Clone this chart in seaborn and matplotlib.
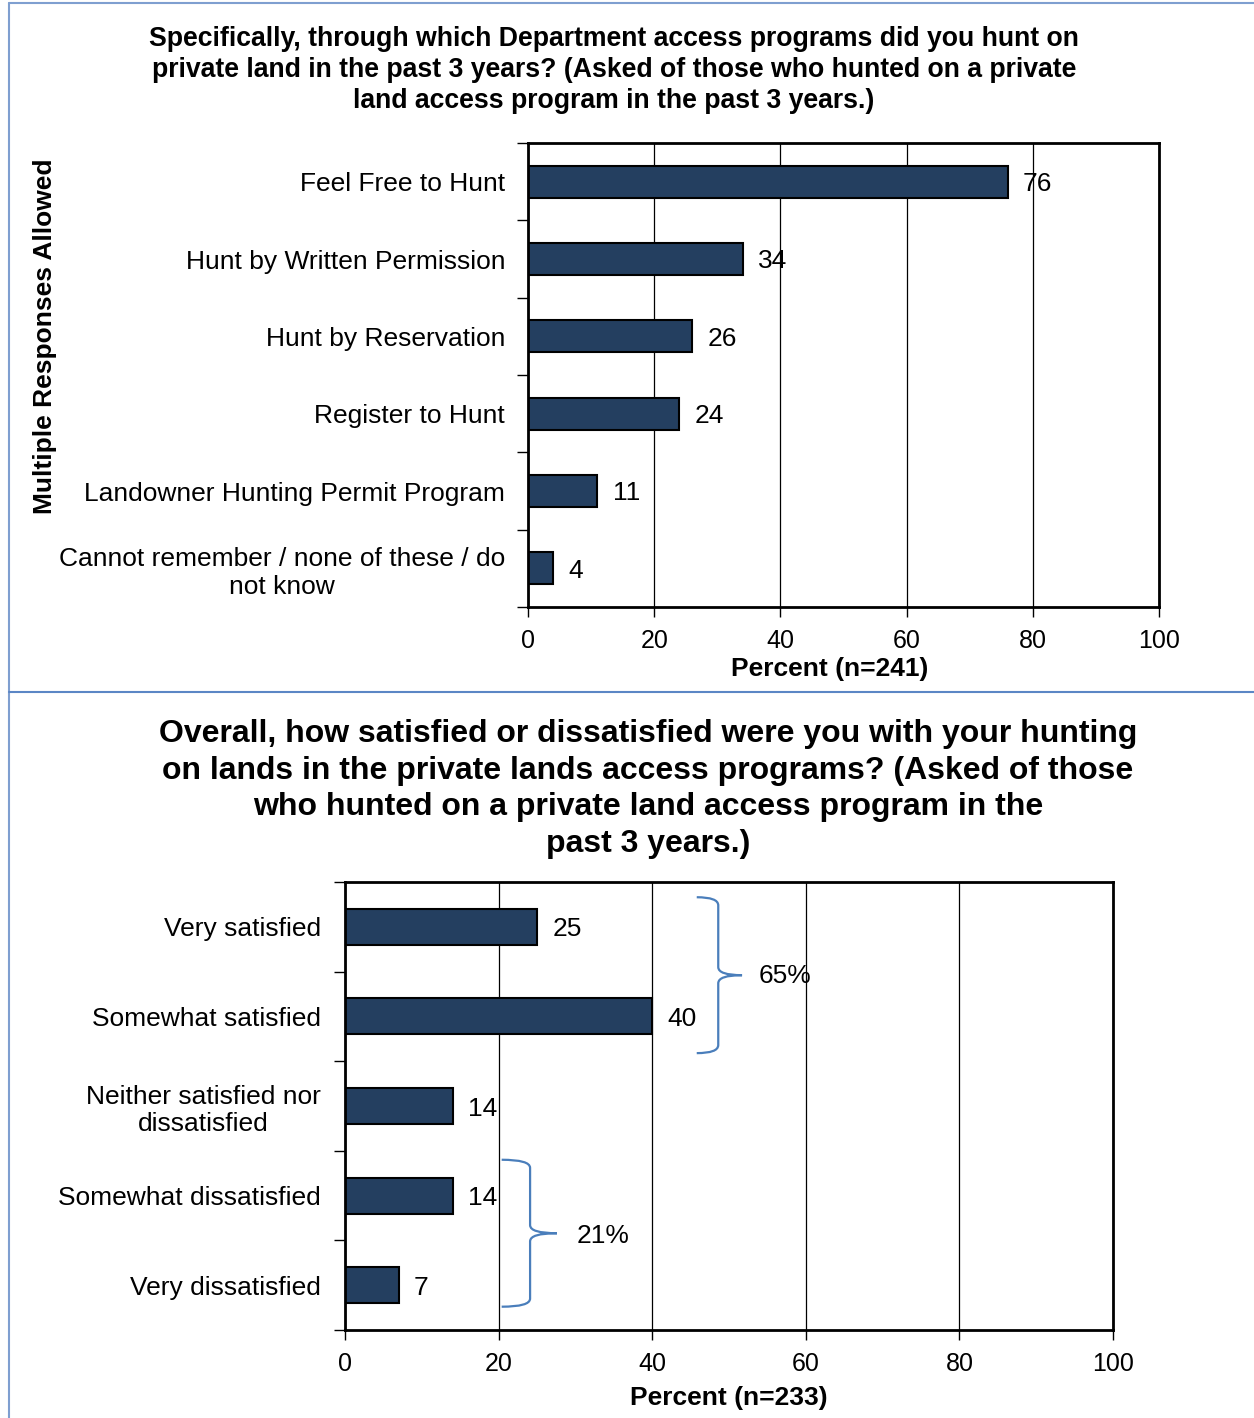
import matplotlib
matplotlib.use("Agg")
import matplotlib.pyplot as plt
from matplotlib.path import Path
from matplotlib.patches import PathPatch
from matplotlib.lines import Line2D
import seaborn as sns
import pandas as pd
import numpy as np

# Access programs used (multiple responses allowed)
programs = [
    "Feel Free to Hunt",
    "Hunt by Written Permission",
    "Hunt by Reservation",
    "Register to Hunt",
    "Landowner Hunting Permit Program",
    "Cannot remember / none of these / do\nnot know",
]
program_pct = [76, 34, 26, 24, 11, 4]

# Satisfaction with private lands access programs
satisfaction = [
    "Very satisfied",
    "Somewhat satisfied",
    "Neither satisfied nor\ndissatisfied",
    "Somewhat dissatisfied",
    "Very dissatisfied",
]
satisfaction_pct = [25, 40, 14, 14, 7]

# Combined group totals shown with braces
satisfied_total = "65%"
dissatisfied_total = "21%"

title_top = ("Specifically, through which Department access programs did you hunt on\n"
             "private land in the past 3 years? (Asked of those who hunted on a private\n"
             "land access program in the past 3 years.)")
title_bottom = ("Overall, how satisfied or dissatisfied were you with your hunting\n"
                "on lands in the private lands access programs? (Asked of those\n"
                "who hunted on a private land access program in the\n"
                "past 3 years.)")

sns.set_style("white", {"text.color": "black", "axes.labelcolor": "black",
                        "xtick.color": "black", "ytick.color": "black"})
plt.rcParams["font.family"] = ["Liberation Sans", "DejaVu Sans"]

BAR = "#243F60"
BRACE = "#4a7ebb"
FRAME = "#7f9fd0"
FS = 19

W, H = 1254, 1418
fig = plt.figure(figsize=(W / 100, H / 100), dpi=100)


def fx(px):
    return px / W


def fy(py):
    return 1 - py / H


def style_axis(ax, n, label_pad):
    ax.set_xlim(0, 100)
    ax.set_ylim(n - 0.5, -0.5)
    ax.set_xticks(range(0, 101, 20))
    ax.xaxis.grid(True, color="black", linewidth=0.9)
    ax.yaxis.grid(False)
    ax.set_axisbelow(True)
    ax.set_yticks(np.arange(-0.5, n, 1.0), minor=True)
    ax.tick_params(axis="y", which="major", length=0, pad=label_pad, labelsize=FS,
                   labelcolor="black")
    ax.tick_params(axis="y", which="minor", length=8, width=1, color="black", left=True)
    ax.tick_params(axis="x", which="major", length=7, width=1, color="black",
                   bottom=True, pad=9, labelsize=18, labelcolor="black")
    for lbl in ax.get_yticklabels():
        lbl.set_multialignment("center")
    for sp in ax.spines.values():
        sp.set_visible(True)
        sp.set_color("black")
        sp.set_linewidth(2)
    ax.set_ylabel("")


def value_labels(ax):
    for t in ax.bar_label(ax.containers[0], fmt="%g", padding=11, fontsize=FS,
                          color="black"):
        t.set_va("center_baseline")


def brace(ax, x_tip, x_spine, x_point, y_top, y_bot, r=0.09):
    ym = (y_top + y_bot) / 2
    verts = [
        (x_tip, y_top),
        (x_spine, y_top), (x_spine, y_top + r),
        (x_spine, ym - r),
        (x_spine, ym), (x_point, ym),
        (x_spine, ym), (x_spine, ym + r),
        (x_spine, y_bot - r),
        (x_spine, y_bot), (x_tip, y_bot),
    ]
    codes = [Path.MOVETO,
             Path.CURVE3, Path.CURVE3,
             Path.LINETO,
             Path.CURVE3, Path.CURVE3,
             Path.CURVE3, Path.CURVE3,
             Path.LINETO,
             Path.CURVE3, Path.CURVE3]
    ax.add_patch(PathPatch(Path(verts, codes), facecolor="none", edgecolor=BRACE,
                           linewidth=1.6, clip_on=False, zorder=5))


# ---- top panel ----
ax1 = fig.add_axes([fx(528), fy(607), fx(1159 - 528), (607 - 143) / H])
df1 = pd.DataFrame({"program": programs, "pct": program_pct})
sns.barplot(data=df1, y="program", x="pct", orient="h", color=BAR,
            edgecolor="black", linewidth=1.5, width=0.41, saturation=1, ax=ax1)
style_axis(ax1, len(programs), 16.5)
value_labels(ax1)
ax1.set_xlabel("Percent (n=241)", fontsize=19, fontweight="bold", va="center")
ax1.xaxis.set_label_coords((830 - 528) / (1159 - 528), -(669 - 607) / (607 - 143))

fig.text(fx(614), fy(70), title_top, ha="center", va="center", fontsize=19.2,
         fontweight="bold", linespacing=1.25)
fig.text(fx(45), fy(336), "Multiple Responses Allowed", rotation=90, ha="center",
         va="center", fontsize=19, fontweight="bold")

# ---- bottom panel ----
ax2 = fig.add_axes([fx(345), fy(1330), fx(1113 - 345), (1330 - 882) / H])
df2 = pd.DataFrame({"answer": satisfaction, "pct": satisfaction_pct})
sns.barplot(data=df2, y="answer", x="pct", orient="h", color=BAR,
            edgecolor="black", linewidth=1.5, width=0.40, saturation=1, ax=ax2)
style_axis(ax2, len(satisfaction), 17.3)
value_labels(ax2)
ax2.set_xlabel("Percent (n=233)", fontsize=19, fontweight="bold", va="center")
ax2.xaxis.set_label_coords(0.5, -(1398 - 1330) / (1330 - 882))

fig.text(fx(648), fy(789), title_bottom, ha="center", va="center", fontsize=23,
         fontweight="bold", linespacing=1.29)

# braces grouping satisfied / dissatisfied answers
brace(ax2, 45.8, 48.6, 51.7, -0.33, 1.41)
ax2.text(53.9, 0.52, satisfied_total, ha="left", va="center_baseline", fontsize=FS)
brace(ax2, 20.4, 24.1, 27.6, 2.60, 4.24)
ax2.text(30.2, 3.42, dissatisfied_total, ha="left", va="center_baseline", fontsize=FS)

# panel frame lines
fig.add_artist(Line2D([fx(9), fx(9)], [0, fy(3)], color=FRAME, linewidth=1.5))
fig.add_artist(Line2D([fx(9), 1], [fy(3), fy(3)], color=FRAME, linewidth=1.5))
fig.add_artist(Line2D([fx(9), 1], [fy(692), fy(692)], color="#5b86c5", linewidth=1.5))

fig.savefig("out.png", dpi=100)
